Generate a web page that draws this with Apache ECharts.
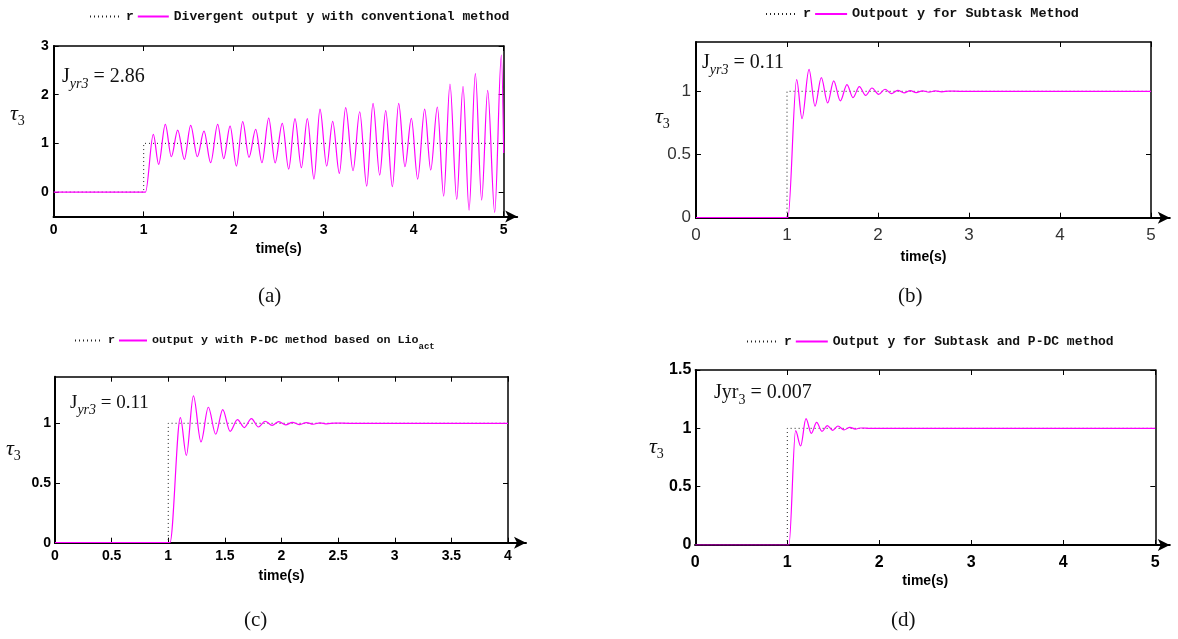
<!DOCTYPE html>
<html><head><meta charset="utf-8">
<script src="https://cdn.jsdelivr.net/npm/echarts@6/dist/echarts.min.js"></script>
<style>html,body{margin:0;padding:0;background:#fff}#c{width:1178px;height:639px}</style>
</head><body><div id="c"></div>
<script>
// ---------------- data ----------------
const refStep5 = [[0,0],[1,0],[1,1],[5,1]];
const refStep4 = [[0,0],[1,0],[1,1],[4,1]];

// (a) conventional method: peaks / troughs [time, value]
const outA = [[0,0],[1.02,0],[1.107,1.185],[1.166,0.568],[1.24,1.39],[1.307,0.726],[1.378,1.274],[1.452,0.671],
  [1.522,1.37],[1.596,0.726],[1.67,1.253],[1.744,0.603],[1.822,1.39],[1.889,0.685],[1.96,1.356],[2.03,0.534],
  [2.1,1.445],[2.17,0.712],[2.244,1.288],[2.314,0.603],[2.389,1.52],[2.46,0.6],[2.54,1.41],[2.611,0.473],
  [2.681,1.507],[2.752,0.5],[2.818,1.507],[2.892,0.267],[2.959,1.705],[3.033,0.534],[3.10,1.452],[3.174,0.384],
  [3.244,1.733],[3.326,0.438],[3.40,1.65],[3.478,0.123],[3.548,1.82],[3.622,0.349],[3.689,1.671],[3.763,0.11],
  [3.833,1.82],[3.903,0.52],[3.974,1.514],[4.044,0.267],[4.122,1.705],[4.189,0.452],[4.263,1.747],[4.333,-0.082],
  [4.403,2.219],[4.478,-0.151],[4.548,2.171],[4.615,-0.37],[4.685,2.432],[4.755,-0.164],[4.822,2.089],[4.9,-0.418],
  [4.974,2.815],[5.0,0.8]];
// (b) subtask method
const outB = [[0,0],[1.01,0],[1.106,1.092],[1.165,0.784],[1.242,1.174],[1.308,0.882],[1.377,1.108],[1.447,0.908],
  [1.513,1.082],[1.586,0.924],[1.659,1.053],[1.725,0.95],[1.795,1.037],[1.864,0.968],[1.934,1.026],[2.007,0.976],
  [2.077,1.016],[2.147,0.982],[2.216,1.008],[2.286,0.987],[2.355,1.005],[2.42,0.99],[2.49,1.004],[2.56,0.993],
  [2.63,1.003],[2.70,0.996],[2.78,1.002],[2.9,1.0],[5,1.0]];
// (c) P-DC method based on Lio_act
const outC = [[0,0],[1.015,0],[1.107,1.047],[1.16,0.732],[1.222,1.229],[1.289,0.844],[1.354,1.134],[1.419,0.908],
  [1.481,1.115],[1.546,0.933],[1.611,1.031],[1.672,0.964],[1.734,1.039],[1.796,0.969],[1.855,1.017],[1.917,0.983],
  [1.976,1.014],[2.037,0.986],[2.096,1.008],[2.161,0.989],[2.22,1.006],[2.28,0.992],[2.34,1.004],[2.40,0.995],
  [2.47,1.002],[2.6,1.0],[4,1.0]];
// (d) subtask and P-DC method
const outD = [[0,0],[1.018,0],[1.09,0.98],[1.145,0.849],[1.203,1.083],[1.261,0.957],[1.319,1.051],[1.377,0.974],
  [1.435,1.023],[1.493,0.983],[1.551,1.02],[1.616,0.986],[1.681,1.009],[1.739,0.994],[1.797,1.003],[1.9,1.0],[5,1.0]];

const yTicksA = [0,1,2,3];
const yTicksB = [0,0.5,1];
const yTicksC = [0,0.5,1];
const yTicksD = [0,0.5,1,1.5];

const refName = 'r';
const namesY = ['Divergent output y with conventional method','Outpout y for Subtask Method',
  'output y with P-DC method based on Lio_act','Output y for Subtask and P-DC method'];
const jValues = ['2.86','0.11','0.11','0.007'];
const captions = ['(a)','(b)','(c)','(d)'];
const xName = 'time(s)';

// ---------------- layout / style ----------------
const SANS = "'Liberation Sans Narrow','Arial Narrow','Liberation Sans',Arial,sans-serif";
const SERIF = "'Liberation Serif','DejaVu Serif',serif";
const MONO = "'Liberation Mono','DejaVu Sans Mono',monospace";

const panels = [
  {out: outA, ref: refStep5, xMax:5, xInt:1, yMin:-0.5, yMax:3, yTicks:yTicksA,
   grid:{left:53.7, top:46, width:450, height:170.4}, arrowExtra:13.5,
   label:{fontSize:14, fontWeight:'bold', color:'#000'}, xMargin:7, yMargin:5, nameGap:26,
   legend:{left:89, top:10, fontSize:13, itemWidth:31}, jPos:[62,64], jFs:20, tauPos:[10,100], capPos:[258,286]},
  {out: outB, ref: refStep5, xMax:5, xInt:1, yMin:0, yMax:1.39, yTicks:yTicksB,
   grid:{left:696, top:42, width:455, height:175.7}, arrowExtra:18.8,
   label:{fontSize:17, fontWeight:'normal', color:'#333'}, xMargin:9, yMargin:5, nameGap:32,
   legend:{left:765, top:7, fontSize:13.5, itemWidth:32}, jPos:[702,50], jFs:20, tauPos:[655,103], capPos:[898,286]},
  {out: outC, ref: refStep4, xMax:4, xInt:0.5, yMin:0, yMax:1.39, yTicks:yTicksC,
   grid:{left:55, top:376.7, width:453, height:166}, arrowExtra:18,
   label:{fontSize:14, fontWeight:'bold', color:'#000'}, xMargin:6, yMargin:4, nameGap:26,
   legend:{left:74, top:330, fontSize:11.7, itemWidth:28}, jPos:[70,390], jFs:19, tauPos:[6,435], capPos:[244,610]},
  {out: outD, ref: refStep5, xMax:5, xInt:1, yMin:0, yMax:1.5, yTicks:yTicksD,
   grid:{left:695.3, top:370, width:460, height:175}, arrowExtra:14.5,
   label:{fontSize:16, fontWeight:'bold', color:'#000'}, xMargin:10, yMargin:4, nameGap:29,
   legend:{left:746, top:335, fontSize:13, itemWidth:32}, jPos:[714,380], jFs:20, tauPos:[649,433], capPos:[891,610]}
];

const grids = [], xAxes = [], yAxes = [], series = [], legends = [], titles = [];

panels.forEach(function (p, i) {
  const gMain = 2 * i, gArrow = 2 * i + 1;
  grids.push(Object.assign({outerBoundsMode:'none', containLabel:false}, p.grid));
  grids.push({outerBoundsMode:'none', containLabel:false, left:p.grid.left, top:p.grid.top,
              width:p.grid.width + p.arrowExtra, height:p.grid.height});
  const labelStyle = {fontFamily:SANS, fontSize:p.label.fontSize, fontWeight:p.label.fontWeight, color:p.label.color};
  xAxes.push({type:'value', gridIndex:gMain, min:0, max:p.xMax, interval:p.xInt, position:'bottom',
    axisLine:{show:true, onZero:false, lineStyle:{color:'#000', width:2}},
    axisTick:{show:true, inside:true, length:5, lineStyle:{color:'#000', width:1}},
    axisLabel:Object.assign({margin:p.xMargin}, labelStyle),
    splitLine:{show:false},
    name:xName, nameLocation:'middle', nameGap:p.nameGap,
    nameTextStyle:{fontFamily:SANS, fontWeight:'bold', fontSize:14, color:'#000', verticalAlign:'top'}});
  xAxes.push({type:'value', gridIndex:gMain, min:0, max:p.xMax, interval:p.xInt, position:'top',
    axisLine:{show:true, onZero:false, lineStyle:{color:'#000', width:1.5}},
    axisTick:{show:true, inside:true, length:5, lineStyle:{color:'#000', width:1}},
    axisLabel:{show:false}, splitLine:{show:false}});
  xAxes.push({type:'value', gridIndex:gArrow, min:0, max:1, position:'bottom',
    axisLine:{show:true, onZero:false, symbol:['none','arrow'], symbolSize:[9,12], lineStyle:{color:'#000', width:2}},
    axisTick:{show:false}, axisLabel:{show:false}, splitLine:{show:false}});
  yAxes.push({type:'value', gridIndex:gMain, min:p.yMin, max:p.yMax, position:'left',
    axisLine:{show:true, onZero:false, lineStyle:{color:'#000', width:2}},
    axisTick:{show:true, inside:true, length:5, customValues:p.yTicks, lineStyle:{color:'#000', width:1}},
    axisLabel:Object.assign({margin:p.yMargin, customValues:p.yTicks}, labelStyle),
    splitLine:{show:false}});
  yAxes.push({type:'value', gridIndex:gMain, min:p.yMin, max:p.yMax, position:'right',
    axisLine:{show:true, onZero:false, lineStyle:{color:'#000', width:1.5}},
    axisTick:{show:true, inside:true, length:5, customValues:p.yTicks, lineStyle:{color:'#000', width:1}},
    axisLabel:{show:false}, splitLine:{show:false}});
  yAxes.push({type:'value', gridIndex:gArrow, min:0, max:1, show:false});

  series.push({type:'line', name:refName, xAxisIndex:3*i, yAxisIndex:3*i, data:p.ref,
    symbol:'none', showSymbol:false, silent:true, animation:false,
    itemStyle:{color:'#222', opacity:0},
    lineStyle:{color:'#222', width:1, type:[1,3]}, z:2});
  series.push({type:'line', name:namesY[i], xAxisIndex:3*i, yAxisIndex:3*i, data:p.out,
    symbol:'none', showSymbol:false, silent:true, animation:false, smooth:0.34, smoothMonotone:'x',
    itemStyle:{color:'#ff00ff', opacity:0},
    lineStyle:{color:'#ff00ff', width:1.2}, z:3});

  legends.push({left:p.legend.left, top:p.legend.top, padding:0, itemWidth:p.legend.itemWidth, itemHeight:14, itemGap:3,
    selectedMode:false, data:[refName, namesY[i]],
    itemStyle:{opacity:0},
    formatter:function (n) {
      if (n === refName) return '{b|r}';
      if (n.indexOf('_act') > 0) return '{b|' + n.replace('_act','') + '}{s|act}';
      return '{b|' + n + '}';
    },
    textStyle:{fontFamily:MONO, fontWeight:'bold', fontSize:p.legend.fontSize, color:'#111',
      rich:{b:{fontFamily:MONO, fontWeight:'bold', fontSize:p.legend.fontSize, color:'#111', lineHeight:16},
            s:{fontFamily:MONO, fontWeight:'bold', fontSize:9, color:'#111', lineHeight:9, padding:[12,0,0,0]}}}});

  const jText = i === 3 ? '{j|Jyr}{u|3}{j| = ' + jValues[i] + '}' : '{j|J}{s|yr3}{j| = ' + jValues[i] + '}';
  titles.push({text:jText, left:p.jPos[0], top:p.jPos[1], padding:0,
    textStyle:{fontWeight:'normal', rich:{
      j:{fontFamily:SERIF, fontWeight:'normal', fontSize:p.jFs, color:'#111', lineHeight:26},
      s:{fontFamily:SERIF, fontWeight:'normal', fontStyle:'italic', fontSize:14, color:'#111', lineHeight:13, padding:[14,0,0,0]},
      u:{fontFamily:SERIF, fontWeight:'normal', fontSize:14, color:'#111', lineHeight:13, padding:[14,0,0,0]}}}});
  titles.push({text:'{t|τ}{u|3}', left:p.tauPos[0], top:p.tauPos[1], padding:0,
    textStyle:{fontWeight:'normal', rich:{
      t:{fontFamily:SERIF, fontWeight:'normal', fontStyle:'italic', fontSize:22, color:'#111', lineHeight:28},
      u:{fontFamily:SERIF, fontWeight:'normal', fontSize:14, color:'#111', lineHeight:14, padding:[14,0,0,0]}}}});
  titles.push({text:captions[i], left:p.capPos[0], top:p.capPos[1], padding:0,
    textStyle:{fontFamily:SERIF, fontSize:21, fontWeight:'normal', color:'#111'}});
});

const chart = echarts.init(document.getElementById('c'), null, {renderer:'canvas'});
chart.setOption({
  animation:false,
  backgroundColor:'#fff',
  title:titles, legend:legends, grid:grids, xAxis:xAxes, yAxis:yAxes, series:series
});
</script></body></html>
